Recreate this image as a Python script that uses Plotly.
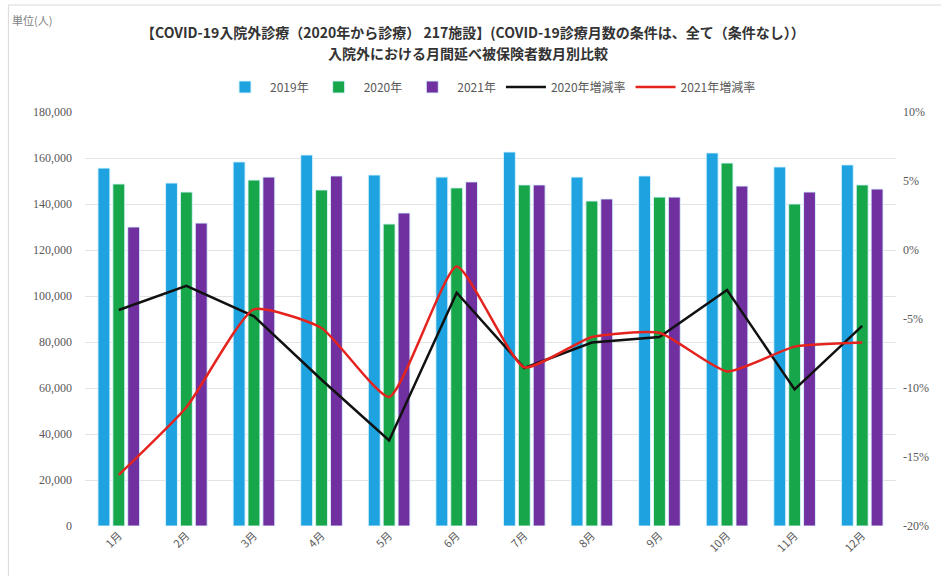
import plotly.graph_objects as go

months = ["1月", "2月", "3月", "4月", "5月", "6月", "7月", "8月", "9月", "10月", "11月", "12月"]
v2019 = [155600, 149100, 158300, 161300, 152600, 151700, 162600, 151700, 152200, 162200, 156100, 157000]
v2020 = [148700, 145200, 150400, 146100, 131300, 147000, 148300, 141300, 143000, 157800, 140000, 148300]
v2021 = [130000, 131700, 151700, 152200, 136100, 149600, 148300, 142200, 143000, 147800, 145200, 146500]
rate2020 = [-4.35, -2.6, -4.8, -9.4, -13.8, -3.1, -8.55, -6.7, -6.3, -2.9, -10.1, -5.5]
rate2021 = [-16.3, -11.4, -4.3, -5.65, -10.65, -1.2, -8.5, -6.3, -6.0, -8.8, -7.0, -6.7]
left_ticks = list(range(0, 180001, 20000))
right_ticks = [-20, -15, -10, -5, 0, 5, 10]
right_labels = ["-20%", "-15%", "-10%", "-5%", "0%", "5%", "10%"]
title1 = "【COVID-19入院外診療（2020年から診療） 217施設】(COVID-19診療月数の条件は、全て（条件なし））"
title2 = "入院外における月間延べ被保険者数月別比較"

CJK = "Noto Sans CJK JP"
SERIF = "Liberation Serif"

L, R, T, B = 85, 41, 112, 50
W, H = 941, 576
plot_w = W - L - R
plot_h = H - T - B


def px(x):
    return (x - L) / plot_w


def py(y):
    return (H - B - y) / plot_h


fig = go.Figure()
bar_line = dict(color="rgba(220,245,255,0.9)", width=1)
fig.add_trace(go.Bar(x=months, y=v2019, name="2019年", marker=dict(color="#1EA3E0", line=bar_line)))
fig.add_trace(go.Bar(x=months, y=v2020, name="2020年", marker=dict(color="#18A64A", line=bar_line)))
fig.add_trace(go.Bar(x=months, y=v2021, name="2021年", marker=dict(color="#7030A0", line=bar_line)))
fig.add_trace(go.Scatter(x=months, y=rate2020, name="2020年増減率", yaxis="y2", mode="lines",
                         line=dict(color="#111111", width=2.5)))
fig.add_trace(go.Scatter(x=months, y=rate2021, name="2021年増減率", yaxis="y2", mode="lines",
                         line=dict(color="#E5231E", width=2.5, shape="spline", smoothing=0.5)))

fig.update_layout(
    width=W, height=H,
    margin=dict(l=L, r=R, t=T, b=B),
    paper_bgcolor="white", plot_bgcolor="white",
    barmode="group", bargap=0.34, bargroupgap=0.2,
    font=dict(family=CJK, color="#595959", size=11),
    legend=dict(orientation="h", x=0.5, xanchor="center", y=py(87), yanchor="middle",
                font=dict(family=CJK, size=12, color="#595959"), itemwidth=40,
                traceorder="normal"),
    xaxis=dict(tickangle=-45, tickfont=dict(family=CJK, size=11, color="#595959"),
               showgrid=False, showline=False, ticks=""),
    yaxis=dict(range=[0, 180000], tickvals=left_ticks, tickformat=",",
               tickfont=dict(family=SERIF, size=12, color="#595959"),
               gridcolor="#E3E3E3", gridwidth=1, zeroline=False, ticks="", ticklabelstandoff=12),
    yaxis2=dict(range=[-20, 10], tickvals=right_ticks, ticktext=right_labels, overlaying="y", side="right",
                tickfont=dict(family=SERIF, size=12, color="#595959"),
                showgrid=False, zeroline=False, ticks="", ticklabelstandoff=6),
    annotations=[
        dict(text="単位(人)", x=px(10), y=py(20), xref="paper", yref="paper", showarrow=False,
             xanchor="left", yanchor="middle", font=dict(family=CJK, size=11, color="#7F7F7F")),
        dict(text="<b>" + title1 + "</b>", x=px(475), y=py(32), xref="paper", yref="paper", showarrow=False,
             xanchor="center", yanchor="middle", font=dict(family=CJK, size=14, color="#333333")),
        dict(text="<b>" + title2 + "</b>", x=px(470), y=py(53), xref="paper", yref="paper", showarrow=False,
             xanchor="center", yanchor="middle", font=dict(family=CJK, size=14, color="#333333")),
    ],
    shapes=[dict(type="rect", xref="paper", yref="paper", x0=px(8), x1=px(960), y0=py(600), y1=py(5),
                 line=dict(color="#D9D9D9", width=1), layer="below")],
)

fig.write_html("out.html")
